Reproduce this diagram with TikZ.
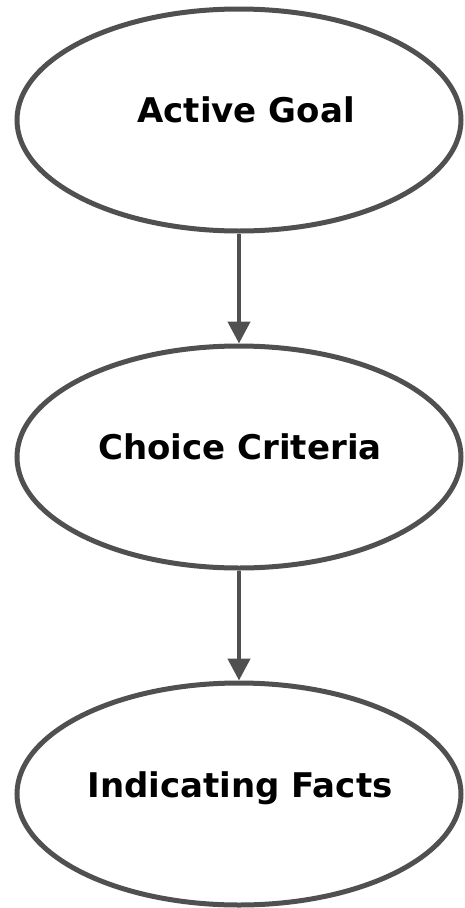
\documentclass[tikz,border=0pt]{standalone}
\usepackage{fontspec}
\setmainfont{DejaVu Sans}
\usetikzlibrary{shapes.geometric,arrows.meta}
\definecolor{edge}{HTML}{505050}
\begin{document}
\begin{tikzpicture}[x=1pt,y=-1pt,
  oval/.style={draw=edge,line width=5pt,ellipse,minimum width=444pt,minimum height=222pt,inner sep=0pt},
  lbl/.style={font=\bfseries\fontsize{34}{38}\selectfont,text=black},
  conn/.style={draw=edge,line width=4.5pt,-{Triangle[length=22pt,width=22pt]}}]
\useasboundingbox (0,0) rectangle (464,908);
\node[oval] (a) at (239,120) {};
\node[oval] (b) at (239,457) {};
\node[oval] (c) at (239,794) {};
\node[lbl] (ta) at (246,110) {Active Goal};
\node[lbl] (tb) at (240,447) {Choice Criteria};
\node[lbl] (tc) at (240,788) {Indicating Facts};
\draw[conn] (a.south) -- (b.north);
\draw[conn] (b.south) -- (c.north);
\end{tikzpicture}
\end{document}
